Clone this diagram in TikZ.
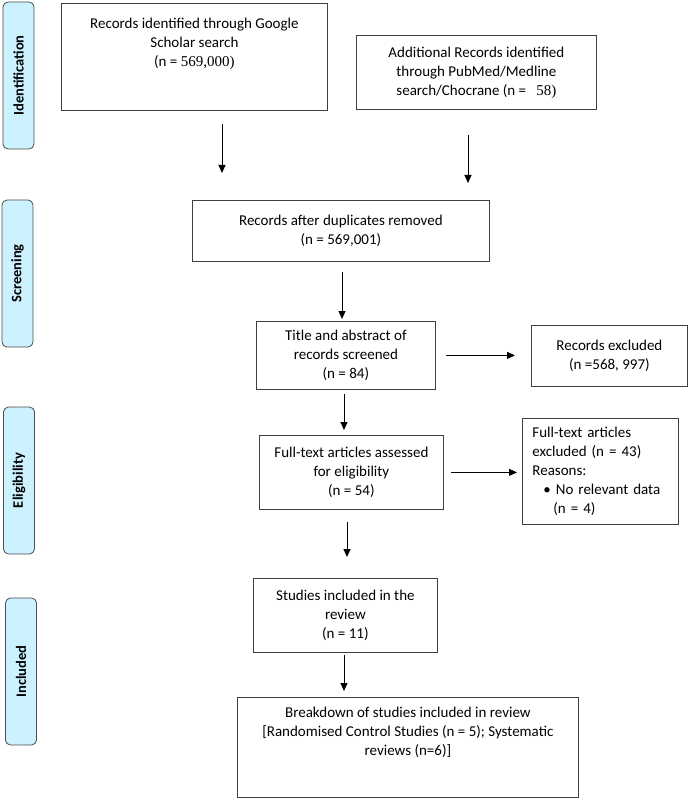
\documentclass[tikz,border=0pt]{standalone}
\usepackage{fontspec}
\setmainfont{Carlito}
\newfontfamily\tnr{Liberation Serif}
\usetikzlibrary{arrows.meta}

\definecolor{stagefill}{RGB}{204,242,255}

\begin{document}
\begin{tikzpicture}[x = 1pt, y = -1pt,
    box/.style = {draw = black!75, line width = 0.8pt, inner sep = 0pt, anchor = north west, align = center, font = \fontsize{15}{19}\selectfont},
    stage/.style = {draw = black!70, line width = 0.8pt, fill = stagefill, rounded corners = 5pt, inner sep = 0pt, minimum width = 147pt, minimum height = 31pt, rotate = 90, font = \fontsize{14.5}{19}\selectfont\bfseries},
    arr/.style = {-{Triangle[length = 8pt, width = 7pt]}, line width = 1pt}]
    \useasboundingbox (0,0) rectangle (688,799);

    \node[stage] (ident) at (18.5,75.5) {Identification};
    \node[stage] (screen) at (17.5,273.5) {Screening};
    \node[stage] (elig) at (19,480.5) {Eligibility};
    \node[stage] (incl) at (21,671.5) {Included};

    \node[box, minimum width = 266pt, minimum height = 107pt] (scholar) at (61,3) {\parbox[c][78pt][t]{260pt}{\centering Records identified through Google\\ Scholar search\\ (n = {\tnr 569,000)}}};
    \node[box, minimum width = 240pt, minimum height = 74pt] (pubmed) at (356,35) {Additional Records identified\\ through PubMed/Medline\\ search/Chocrane (n = \ \ {\tnr 58)}};
    \node[box, minimum width = 297pt, minimum height = 61pt] (dupl) at (192,200) {Records after duplicates removed\\ (n = 569,001)};
    \node[box, minimum width = 179pt, minimum height = 68pt] (screened) at (256,321) {Title and abstract of\\ records screened\\ (n = 84)};
    \node[box, minimum width = 156pt, minimum height = 61pt] (excl) at (531,325) {Records excluded\\ (n =568, 997)};
    \node[box, minimum width = 184pt, minimum height = 74pt] (fulltext) at (259,435) {Full-text articles assessed\\ for eligibility\\ (n = 54)};
    \node[box, minimum width = 156pt, minimum height = 106pt, align = left, text width = 136pt] (ftexcl) at (522,418) {Full-text articles\\ excluded (n = 43)\\ Reasons:\\ \hspace*{11pt}\textbullet\hspace{5pt}No relevant data\\ \hspace*{21pt}(n = 4)};
    \node[box, minimum width = 184pt, minimum height = 74pt] (included) at (253,578) {Studies included in the\\ review\\ (n = 11)};
    \node[box, minimum width = 341pt, minimum height = 100pt] (breakdown) at (237,697) {\parbox[c][80pt][t]{335pt}{\centering Breakdown of studies included in review\\ {[}Randomised Control Studies (n = 5); Systematic\\ reviews (n=6)]}};

    % arrows
    \coordinate (a1) at (222,124);
    \coordinate (a2) at (468,135);
    \coordinate (a3) at (342,272);
    \coordinate (a4) at (344,394);
    \coordinate (a5) at (347,522);
    \coordinate (a6) at (344,655);
    \draw[arr, shorten > = 27pt] (a1) -- (a1 |- dupl.north);
    \draw[arr, shorten > = 17pt] (a2) -- (a2 |- dupl.north);
    \draw[arr, shorten > = 2pt] (a3) -- (a3 |- screened.north);
    \draw[arr, shorten > = 5pt] (a4) -- (a4 |- fulltext.north);
    \draw[arr, shorten > = 21pt] (a5) -- (a5 |- included.north);
    \draw[arr, shorten > = 6pt] (a6) -- (a6 |- breakdown.north);
    \draw[arr, shorten < = 10pt, shorten > = 16pt] (screened.east) -- (screened.east -| excl.west);
    \draw[arr, shorten < = 7pt, shorten > = 5pt] (fulltext.east) -- (fulltext.east -| ftexcl.west);
\end{tikzpicture}
\end{document}
